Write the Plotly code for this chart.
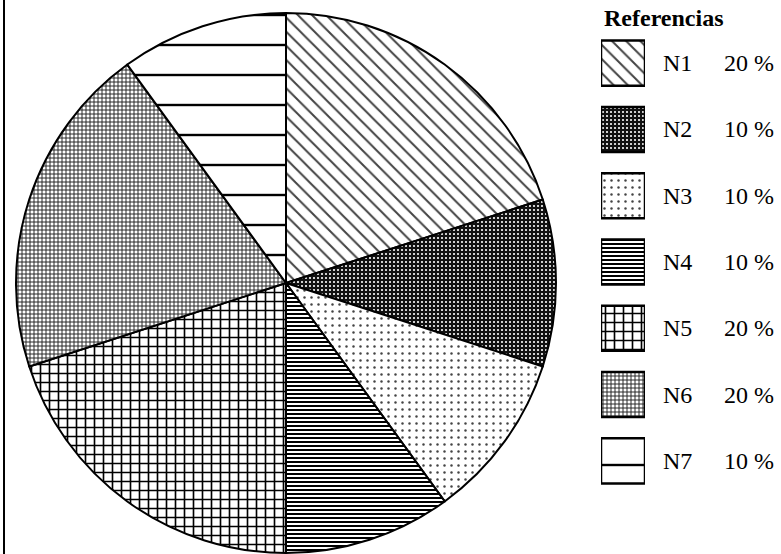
import plotly.graph_objects as go

# Data
labels = ["N1", "N2", "N3", "N4", "N5", "N6", "N7"]
percents = [20, 10, 10, 10, 20, 20, 10]

# Fill pattern per slice (black & white hatching)
shapes = ["\\", ".", ".", "-", "+", "+", "-"]
fg_colors = ["#444444", "#ffffff", "#444444", "#000000", "#000000", "#222222", "#000000"]
bg_colors = ["#ffffff", "#111111", "#ffffff", "#ffffff", "#ffffff", "#ffffff", "#ffffff"]
sizes = [10, 4, 7, 4, 9, 4, 30]
solidities = [0.2, 0.22, 0.1, 0.5, 0.33, 0.42, 0.08]

W, H = 781, 554
FONT = "Liberation Serif, Times New Roman, serif"

fig = go.Figure()

fig.add_trace(go.Pie(
    labels=labels,
    values=percents,
    sort=False,
    direction="clockwise",
    rotation=0,
    textinfo="none",
    hoverinfo="label+percent",
    showlegend=False,
    marker=dict(colors=bg_colors,
                pattern=dict(shape=shapes, fgcolor=fg_colors, bgcolor=bg_colors,
                             size=sizes, solidity=solidities, fillmode="replace"),
                line=dict(color="black", width=2)),
    domain=dict(x=[16 / W, 556 / W], y=[1 - 553 / H, 1 - 13 / H]),
))

# Legend swatches: one equal-length bar per category, each with its own pattern
for lab, shp, fg, bg, sz, so in zip(labels, shapes, fg_colors, bg_colors, sizes, solidities):
    fig.add_trace(go.Bar(
        y=[lab],
        x=[1],
        orientation="h",
        xaxis="x2",
        yaxis="y2",
        showlegend=False,
        hoverinfo="skip",
        marker=dict(color=bg,
                    pattern=dict(shape=shp, fgcolor=fg, bgcolor=bg, size=sz,
                                 solidity=so, fillmode="replace"),
                    line=dict(color="black", width=2.5)),
    ))

annotations = [dict(
    text="<b>Referencias</b>", x=602 / W, y=1 - 18 / H,
    xref="paper", yref="paper", xanchor="left", yanchor="middle",
    showarrow=False, font=dict(family=FONT, size=24, color="black"),
)]
for lab, pct in zip(labels, percents):
    annotations.append(dict(
        text=lab, x=661 / W, y=lab, xref="paper", yref="y2",
        xanchor="left", yanchor="middle", showarrow=False,
        font=dict(family=FONT, size=24, color="black"),
    ))
    annotations.append(dict(
        text=f"{pct} %", x=776 / W, y=lab, xref="paper", yref="y2",
        xanchor="right", yanchor="middle", showarrow=False,
        font=dict(family=FONT, size=24, color="black"),
    ))

fig.update_layout(
    width=W,
    height=H,
    margin=dict(l=0, r=0, t=0, b=0),
    paper_bgcolor="white",
    plot_bgcolor="white",
    barmode="overlay",
    bargap=0.32,
    xaxis2=dict(domain=[601 / W, 645 / W], range=[0, 1], visible=False,
                anchor="y2", fixedrange=True),
    yaxis2=dict(domain=[1 - 494 / H, 1 - 30 / H], autorange="reversed",
                visible=False, anchor="x2", type="category",
                categoryorder="array", categoryarray=labels, fixedrange=True),
    xaxis=dict(visible=False),
    yaxis=dict(visible=False),
    annotations=annotations,
    shapes=[dict(type="line", xref="paper", yref="paper",
                 x0=4 / W, x1=4 / W, y0=0, y1=1,
                 line=dict(color="black", width=2))],
)

fig.write_html("out.html")
